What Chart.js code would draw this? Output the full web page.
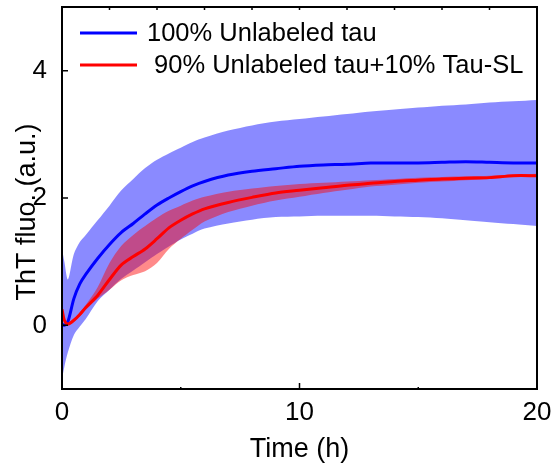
<!DOCTYPE html>
<html>
<head>
<meta charset="utf-8">
<script src="https://cdn.jsdelivr.net/npm/chart.js@4/dist/chart.umd.min.js"></script>
<style>
  html, body { margin: 0; padding: 0; background: #fff; }
  #wrap { width: 555px; height: 472px; }
</style>
</head>
<body>
<div id="wrap"><canvas id="chart" width="555" height="472"></canvas></div>
<script>
// Données (temps en heures)
const time = [0, 0.1, 0.25, 0.5, 0.75, 1, 1.5, 2, 2.5, 3, 3.5, 4, 4.5, 5, 5.5, 6, 7, 8, 9, 10, 11, 12, 13, 14, 15, 16, 17, 18, 19, 20];

// 100% Unlabeled tau : moyenne et enveloppe
const blueMean  = [0.02, 0.0, 0.06, 0.42, 0.65, 0.8, 1.05, 1.27, 1.46, 1.6, 1.75, 1.89, 2.0, 2.1, 2.19, 2.26, 2.36, 2.42, 2.46, 2.5, 2.52, 2.53, 2.55, 2.55, 2.55, 2.56, 2.57, 2.56, 2.55, 2.55];
const blueUpper = [1.2, 1.0, 0.72, 1.12, 1.31, 1.42, 1.65, 1.88, 2.12, 2.3, 2.47, 2.6, 2.7, 2.79, 2.88, 2.95, 3.06, 3.14, 3.2, 3.24, 3.28, 3.32, 3.36, 3.39, 3.42, 3.45, 3.47, 3.5, 3.52, 3.54];
const blueLower = [-0.85, -0.65, -0.42, -0.15, -0.02, 0.1, 0.38, 0.56, 0.73, 0.86, 0.99, 1.12, 1.24, 1.35, 1.44, 1.52, 1.6, 1.66, 1.7, 1.71, 1.72, 1.72, 1.72, 1.71, 1.7, 1.68, 1.65, 1.62, 1.59, 1.56];

// 90% Unlabeled tau + 10% Tau-SL : moyenne et enveloppe
const redMean  = [0.25, 0.08, 0.02, 0.08, 0.17, 0.28, 0.47, 0.72, 0.95, 1.08, 1.2, 1.36, 1.53, 1.65, 1.75, 1.83, 1.93, 2.01, 2.08, 2.12, 2.16, 2.2, 2.23, 2.26, 2.28, 2.3, 2.31, 2.32, 2.35, 2.35];
const redUpper = [0.27, 0.1, 0.04, 0.1, 0.2, 0.32, 0.6, 0.98, 1.25, 1.42, 1.56, 1.69, 1.8, 1.88, 1.96, 2.02, 2.1, 2.15, 2.19, 2.22, 2.24, 2.26, 2.28, 2.3, 2.32, 2.33, 2.34, 2.35, 2.37, 2.38];
const redLower = [0.23, 0.06, 0.0, 0.06, 0.14, 0.24, 0.42, 0.56, 0.71, 0.79, 0.85, 0.98, 1.2, 1.36, 1.5, 1.63, 1.78, 1.88, 1.96, 2.02, 2.08, 2.13, 2.18, 2.21, 2.24, 2.26, 2.28, 2.3, 2.33, 2.33];

const xTicks = [0, 10, 20];
const yTicks = [0, 2, 4];
const topTicks = [2, 4, 6, 8, 10, 12, 14, 16, 18];
const xMinorTicks = [5, 15];

const FONT = '"Liberation Sans", Arial, sans-serif';

function pts(ys) {
    return time.map((t, i) => ({ x: t, y: ys[i] }));
}

// Cadre, graduations, titre Y et légende
const framePlugin = {
    id: 'frame',
    afterDraw(chart) {
        const ctx = chart.ctx;
        const xs = chart.scales.x, ys = chart.scales.y;
        const left = xs.getPixelForValue(xs.min), right = xs.getPixelForValue(xs.max);
        const top = ys.getPixelForValue(ys.max), bottom = ys.getPixelForValue(ys.min);
        ctx.save();
        ctx.globalAlpha = 1;
        ctx.setLineDash([]);
        ctx.strokeStyle = '#000000';
        ctx.lineWidth = 2;
        ctx.beginPath();
        ctx.rect(left, top, right - left, bottom - top);
        ctx.stroke();

        ctx.lineWidth = 1.5;
        ctx.beginPath();
        yTicks.forEach(v => {
            const y = ys.getPixelForValue(v);
            ctx.moveTo(left, y); ctx.lineTo(left + 6, y);
        });
        xTicks.forEach(v => {
            const x = xs.getPixelForValue(v);
            ctx.moveTo(x, bottom); ctx.lineTo(x, bottom - 6);
        });
        xMinorTicks.forEach(v => {
            const x = xs.getPixelForValue(v);
            ctx.moveTo(x, bottom); ctx.lineTo(x, bottom - 2);
        });
        topTicks.forEach(v => {
            const x = xs.getPixelForValue(v);
            ctx.moveTo(x, top); ctx.lineTo(x, top + 3);
        });
        ctx.stroke();

        // titre de l'axe Y
        ctx.fillStyle = '#000';
        ctx.font = '27px ' + FONT;
        ctx.textAlign = 'center';
        ctx.textBaseline = 'middle';
        ctx.translate(28, 212);
        ctx.rotate(-Math.PI / 2);
        ctx.fillText('ThT fluo. (a.u.)', 0, 0);
        ctx.restore();

        // légende
        ctx.save();
        const items = chart.data.datasets.filter(d => d.showInLegend);
        items.forEach((d, i) => {
            const y = 33 + i * 32;
            ctx.strokeStyle = d.borderColor;
            ctx.lineWidth = 3;
            ctx.beginPath();
            ctx.moveTo(80, y); ctx.lineTo(137, y);
            ctx.stroke();
            ctx.fillStyle = '#000';
            ctx.font = '25.5px ' + FONT;
            ctx.textAlign = 'left';
            ctx.textBaseline = 'middle';
            ctx.fillText(d.label, 147, y + 1);
        });
        ctx.restore();
    }
};

const bandStyle = { borderWidth: 0, pointRadius: 0, tension: 0.3 };

new Chart(document.getElementById('chart'), {
    type: 'line',
    data: {
        datasets: [
            { label: 'blueUpper', data: pts(blueUpper), fill: '+1', backgroundColor: 'rgba(0,0,255,0.46)', order: 4, ...bandStyle },
            { label: 'blueLower', data: pts(blueLower), fill: false, order: 4, ...bandStyle },
            { label: 'redUpper', data: pts(redUpper), fill: '+1', backgroundColor: 'rgba(255,0,0,0.46)', order: 3, ...bandStyle },
            { label: 'redLower', data: pts(redLower), fill: false, order: 3, ...bandStyle },
            { label: '100% Unlabeled tau', data: pts(blueMean), borderColor: '#0000ff', borderWidth: 3, pointRadius: 0, tension: 0.3, fill: false, order: 2, showInLegend: true },
            { label: ' 90% Unlabeled tau+10% Tau-SL', data: pts(redMean), borderColor: '#ff0000', borderWidth: 3, pointRadius: 0, tension: 0.3, fill: false, order: 1, showInLegend: true }
        ]
    },
    options: {
        responsive: false,
        animation: false,
        layout: { padding: { top: 7, right: 18, left: 0, bottom: 0 } },
        plugins: {
            legend: { display: false },
            tooltip: { enabled: false }
        },
        scales: {
            x: {
                type: 'linear',
                min: 0,
                max: 20,
                grid: { display: false },
                border: { display: false },
                afterBuildTicks: s => { s.ticks = xTicks.map(v => ({ value: v })); },
                afterFit: s => { s.height = 83; s.paddingLeft = 0; s.paddingRight = 0; },
                ticks: { color: '#000', font: { family: FONT, size: 26 }, padding: 0, maxRotation: 0 },
                title: { display: true, text: 'Time (h)', color: '#000', font: { family: FONT, size: 27 }, padding: { top: 0, bottom: 6 } }
            },
            y: {
                type: 'linear',
                min: -1,
                max: 5,
                grid: { display: false },
                border: { display: false },
                afterBuildTicks: s => { s.ticks = yTicks.map(v => ({ value: v })); },
                afterFit: s => { s.width = 62; s.paddingTop = 0; s.paddingBottom = 0; },
                ticks: { color: '#000', font: { family: FONT, size: 26 }, padding: 7 }
            }
        }
    },
    plugins: [framePlugin]
});
</script>
</body>
</html>
